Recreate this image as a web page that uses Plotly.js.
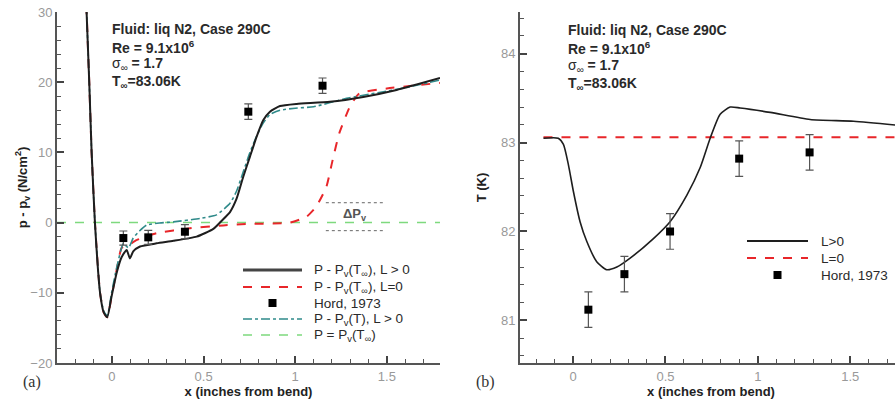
<!DOCTYPE html>
<html><head><meta charset="utf-8">
<script src="https://cdn.plot.ly/plotly-3.0.1.min.js"></script>
<style>html,body{margin:0;padding:0;overflow:hidden;background:#fff}</style>
</head><body><div id="chart"></div>
<script>
// ---------- Panel (a): pressure ----------
const pBlackX = [-0.14,-0.124,-0.111,-0.093,-0.065,-0.045,-0.026,-0.002,0.025,0.053,0.08,0.098,0.116,0.153,0.244,0.335,0.462,0.553,0.6,0.644,0.68,0.716,0.753,0.789,0.826,0.862,0.917,1.008,1.189,1.371,1.553,1.79];
const pBlackY = [31,20,10,0,-10,-12.8,-13.5,-10.5,-7.2,-4.9,-3.9,-5.1,-4.1,-3.4,-2.95,-2.6,-2.0,-0.9,0.3,1.5,3.4,6.5,9.4,12.2,14.6,15.8,16.6,16.9,17.2,17.9,18.9,20.6];
const pRedX = [-0.14,-0.124,-0.111,-0.093,-0.065,-0.045,-0.026,-0.002,0.025,0.053,0.09,0.134,0.244,0.426,0.607,0.735,0.971,1.062,1.115,1.17,1.204,1.24,1.298,1.35,1.5,1.79];
const pRedY = [31,20,10,0,-10,-12.8,-13.5,-10.5,-6.8,-3.6,-3.2,-2.5,-1.5,-0.8,-0.4,-0.2,0,0.85,2.3,5.1,8.9,12.7,16.5,18.4,19.1,19.9];
const pTealX = [-0.14,-0.124,-0.111,-0.093,-0.065,-0.045,-0.026,-0.002,0.025,0.062,0.09,0.116,0.15,0.189,0.26,0.335,0.48,0.57,0.644,0.68,0.716,0.753,0.789,0.826,0.862,0.917,1.0,1.1,1.28,1.45,1.6,1.79];
const pTealY = [31,20,10,0,-10,-12.6,-13.3,-10,-6.5,-3.0,-3.6,-2.2,-1.2,-0.35,-0.05,0.1,0.6,1.1,2.75,4.5,7.2,10,12.3,14.2,15.4,16.0,16.3,16.5,17.7,18.5,19.2,20.3];
const pGreenX = [-0.3,1.8];
const pGreenY = [0,0];
const hordPX = [0.062,0.198,0.398,0.744,1.149];
const hordPY = [-2.2,-2.1,-1.3,15.8,19.5];
const hordPErr = [1,1,1,1.1,1.1];

// ---------- Panel (b): temperature ----------
const tBlackX = [-0.16,-0.08,-0.052,-0.025,0.002,0.038,0.074,0.128,0.182,0.237,0.309,0.435,0.525,0.616,0.688,0.742,0.796,0.85,0.904,1.067,1.283,1.518,1.78];
const tBlackY = [83.05,83.05,82.98,82.75,82.45,82.11,81.89,81.66,81.57,81.60,81.70,81.92,82.11,82.41,82.72,83.05,83.32,83.40,83.39,83.34,83.26,83.24,83.19];
const tRedX = [-0.16,1.8];
const tRedY = [83.06,83.06];
const hordTX = [0.083,0.278,0.525,0.899,1.28];
const hordTY = [81.12,81.52,82.0,82.82,82.89];
const hordTErr = [0.2,0.2,0.2,0.2,0.2];

const legendA = ["P - P<sub>v</sub>(T<sub>\u221e</sub>), L > 0","P - P<sub>v</sub>(T<sub>\u221e</sub>), L=0","Hord, 1973","P - P<sub>v</sub>(T), L > 0","P = P<sub>v</sub>(T<sub>\u221e</sub>)"];
const legendB = ["L>0","L=0","Hord, 1973"];
const infoLines = ["<b>Fluid: liq N2, Case 290C</b>","<b>Re = 9.1x10<sup>6</sup></b>","\u03c3<sub>\u221e</sub><b> = 1.7</b>","<b>T<sub>\u221e</sub>=83.06K</b>"];

// ---------- figure ----------
const W = 902, H = 405;
const px = v => v / W;
const py = v => 1 - v / H;
const FONT = "Liberation Sans, Arial, sans-serif";

const black = '#1e1e1e', red = '#e8262a', teal = '#2f8a8a', green = '#7ed97e';

const traces = [
  {x:pGreenX, y:pGreenY, xaxis:'x', yaxis:'y', mode:'lines', line:{color:green, width:1.5, dash:'dash'}},
  {x:pRedX, y:pRedY, xaxis:'x', yaxis:'y', mode:'lines', line:{color:red, width:2, dash:'dash', shape:'spline', smoothing:0.5}},
  {x:pTealX, y:pTealY, xaxis:'x', yaxis:'y', mode:'lines', line:{color:teal, width:1.6, dash:'dashdot', shape:'spline', smoothing:0.5}},
  {x:pBlackX, y:pBlackY, xaxis:'x', yaxis:'y', mode:'lines', line:{color:black, width:2, shape:'spline', smoothing:0.5}},
  {x:hordPX, y:hordPY, xaxis:'x', yaxis:'y', mode:'markers', marker:{symbol:'square', size:8, color:'#000'},
   error_y:{type:'data', array:hordPErr, visible:true, color:'#555', thickness:1.2, width:4}},
  {x:tRedX, y:tRedY, xaxis:'x2', yaxis:'y2', mode:'lines', line:{color:red, width:2, dash:'dash'}},
  {x:tBlackX, y:tBlackY, xaxis:'x2', yaxis:'y2', mode:'lines', line:{color:black, width:1.6, shape:'spline', smoothing:0.6}},
  {x:hordTX, y:hordTY, xaxis:'x2', yaxis:'y2', mode:'markers', marker:{symbol:'square', size:8, color:'#000'},
   error_y:{type:'data', array:hordTErr, visible:true, color:'#555', thickness:1.2, width:4}}
];

function axisBase(extra){
  return Object.assign({
    showgrid:false, zeroline:false, showline:true, linecolor:'#555', linewidth:2,
    ticks:'inside', ticklen:7, tickwidth:2, tickcolor:'#444',
    tickfont:{family:FONT, size:13, color:'#999'},
    fixedrange:true
  }, extra);
}

const titleFont = {family:FONT, size:13, color:'#222'};

const layout = {
  width:W, height:H, margin:{l:0,r:0,t:0,b:0},
  paper_bgcolor:'#fff', plot_bgcolor:'#fff', showlegend:false,
  xaxis: axisBase({domain:[px(57),px(440)], range:[-0.3,1.79], anchor:'y', tickvals:[0,0.5,1,1.5], ticktext:['0','0.5','1','1.5'],
    minor:{dtick:0.1, ticks:'inside', ticklen:4, tickwidth:1, tickcolor:'#555'},
    title:{text:'<b>x (inches from bend)</b>', font:titleFont, standoff:4}}),
  yaxis: axisBase({domain:[42/H, 393/H], range:[-20,30], anchor:'x', dtick:10,
    minor:{dtick:2, ticks:'inside', ticklen:4, tickwidth:1, tickcolor:'#555'},
    title:{text:'<b>p - p<sub>v</sub> (N/cm<sup>2</sup>)</b>', font:titleFont, standoff:0}}),
  xaxis2: axisBase({domain:[px(520),1], range:[-0.287,1.78], anchor:'y2', tickvals:[0,0.5,1,1.5], ticktext:['0','0.5','1','1.5'],
    minor:{dtick:0.1, ticks:'inside', ticklen:4, tickwidth:1, tickcolor:'#555'},
    title:{text:'<b>x (inches from bend)</b>', font:titleFont, standoff:4}}),
  yaxis2: axisBase({domain:[42/H, 393/H], range:[80.52,84.47], anchor:'x2', tickvals:[81,82,83,84],
    minor:{dtick:0.2, ticks:'inside', ticklen:4, tickwidth:1, tickcolor:'#555'},
    title:{text:'<b>T (K)</b>', font:titleFont, standoff:11}}),
  shapes:[], annotations:[]
};

// Delta Pv marker lines (panel a)
const dpX = [1.167,1.478], dpY = [2.83,-1.15];
dpY.forEach(v => layout.shapes.push({type:'line', xref:'x', yref:'y', x0:dpX[0], x1:dpX[1], y0:v, y1:v, line:{color:'#666', width:1, dash:'dot'}}));
layout.annotations.push({xref:'x', yref:'y', x:1.325, y:1.2, text:'<b>\u0394P<sub>v</sub></b>', showarrow:false, font:{family:FONT, size:13, color:'#555'}});

// Info text blocks
const infoA = {x:110, ys:[29,47,64,82]}, infoB = {x:566, ys:[30,48,66,84]};
[infoA, infoB].forEach(b => infoLines.forEach((t,i) => layout.annotations.push({
  xref:'paper', yref:'paper', x:px(b.x), y:py(b.ys[i]), xanchor:'left', yanchor:'middle', showarrow:false,
  text:t, font:{family:FONT, size:14, color:'#2a2a2a'}})));

// Manual legends
function legendRow(x0, x1, y, style, textX, text){
  if(style.square){
    const cx = (x0+x1)/2;
    layout.shapes.push({type:'rect', xref:'paper', yref:'paper', x0:px(cx-4), x1:px(cx+4), y0:py(y+4), y1:py(y-4), fillcolor:'#000', line:{width:0}});
  } else {
    layout.shapes.push({type:'line', xref:'paper', yref:'paper', x0:px(x0), x1:px(x1), y0:py(y), y1:py(y), line:style});
  }
  layout.annotations.push({xref:'paper', yref:'paper', x:px(textX), y:py(y), xanchor:'left', yanchor:'middle', showarrow:false,
    text:text, font:{family:FONT, size:13.5, color:'#2a2a2a'}});
}
const styA = [{color:'#444', width:3},{color:red, width:2, dash:'dash'},{square:true},{color:teal, width:1.6, dash:'dashdot'},{color:green, width:1.5, dash:'dash'}];
const rowsA = [270,287,303,319,335];
legendA.forEach((t,i) => legendRow(243,302,rowsA[i],styA[i],312,t));
const styB = [{color:black, width:2},{color:red, width:2, dash:'dash'},{square:true}];
const rowsB = [241,258,275];
legendB.forEach((t,i) => legendRow(747,808,rowsB[i],styB[i],819,t));

// Panel labels
layout.annotations.push({xref:'paper', yref:'paper', x:px(21), y:py(393), showarrow:false, text:'(a)', font:{family:'Liberation Serif, Times New Roman, serif', size:16, color:'#333'}});
layout.annotations.push({xref:'paper', yref:'paper', x:px(485), y:py(393), showarrow:false, text:'(b)', font:{family:'Liberation Serif, Times New Roman, serif', size:16, color:'#333'}});

Plotly.newPlot('chart', traces, layout, {displayModeBar:false, staticPlot:true});
</script></body></html>
